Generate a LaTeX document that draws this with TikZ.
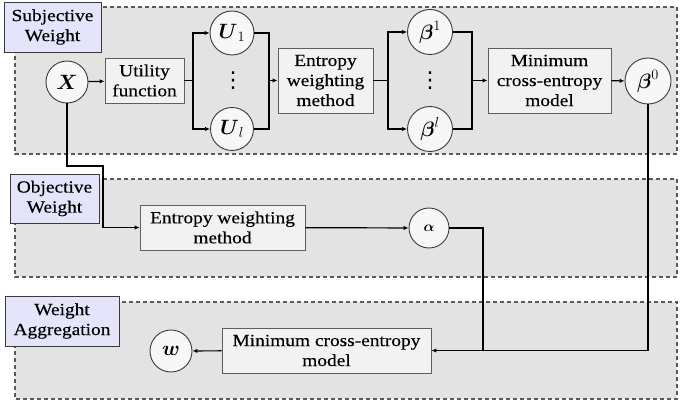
\documentclass[tikz,border=0pt]{standalone}
\usepackage{amsmath}
\usepackage{fontspec}
\setmainfont[FakeStretch=1.14,FakeBold=0.3]{Liberation Serif}
\newfontfamily\symfont{DejaVu Sans}
\usetikzlibrary{arrows.meta}
\definecolor{panelfill}{HTML}{E3E3E3}
\definecolor{paneldraw}{HTML}{5A5A5A}
\definecolor{labfill}{HTML}{E4E4FA}
\definecolor{labdraw}{HTML}{3A3A3A}
\definecolor{boxfill}{HTML}{F2F2F2}
\definecolor{boxdraw}{HTML}{5E5E5E}
\definecolor{circfill}{HTML}{F7F7F7}
\tikzset{
  panel/.style={fill=panelfill, draw=paneldraw, line width=1.1pt, dash pattern=on 4pt off 3pt},
  lab/.style={fill=labfill, draw=labdraw, line width=0.9pt, align=center, inner sep=0pt,
    font=\fontsize{17}{20}\selectfont},
  procbox/.style={fill=boxfill, draw=boxdraw, line width=0.9pt, align=center, inner sep=0pt,
    font=\fontsize{17}{20}\selectfont},
  circ/.style={circle, fill=circfill, draw=labdraw, line width=0.9pt, inner sep=0pt,
    font=\fontsize{20}{24}\selectfont},
  dotsnode/.style={inner sep=0pt, font=\symfont\fontsize{22}{24}\selectfont},
  conn/.style={line width=1.2pt},
  arr/.style={conn, -{Latex[length=5pt,width=4.5pt]}},
}
\begin{document}
\begin{tikzpicture}[x=1pt,y=-1pt]
\useasboundingbox (0,0) rectangle (685,406);
% panels
\draw[panel] (15,7) rectangle (677,154);
\draw[panel] (15,179) rectangle (677,277);
\draw[panel] (15,302) rectangle (677,399);
% labels
\node[lab, minimum width=97pt, minimum height=50pt] (labS) at (52.5,27) {Subjective\\Weight};
\node[lab, minimum width=89pt, minimum height=49pt] (labO) at (54.5,198.5) {Objective\\Weight};
\node[lab, minimum width=114pt, minimum height=50pt] (labA) at (62,321) {Weight\\Aggregation};
% subjective nodes
\node[circ, minimum size=42pt] (X) at (67,82) {$\boldsymbol{X}$};
\node[procbox, minimum width=79pt, minimum height=45pt] (util) at (144.5,80.5) {Utility\\function};
\node[circ, minimum size=44pt] (U1) at (232,33) {$\boldsymbol{U}_{1}$};
\node[circ, minimum size=43pt] (Ul) at (232,129) {$\boldsymbol{U}_{l}$};
\node[dotsnode] (dots1) at (233,81) {⋮};
\node[procbox, minimum width=95pt, minimum height=65pt] (ent1) at (325.5,80.5) {Entropy\\weighting\\method};
\node[circ, minimum size=45pt] (b1) at (430,32) {$\boldsymbol{\beta}^{1}$};
\node[circ, minimum size=45pt] (bl) at (430,129) {$\boldsymbol{\beta}^{l}$};
\node[dotsnode] (dots2) at (430,81) {⋮};
\node[procbox, minimum width=123pt, minimum height=65pt] (min1) at (549.5,80.5) {Minimum\\cross-entropy\\model};
\node[circ, minimum size=46pt] (b0) at (648,81) {$\boldsymbol{\beta}^{0}$};
% objective nodes
\node[procbox, minimum width=165pt, minimum height=45pt] (ent2) at (222.5,227.5) {Entropy weighting\\method};
\node[circ, minimum size=40pt, font=\fontsize{14}{16}\selectfont] (alpha) at (429,228) {$\boldsymbol{\alpha}$};
% aggregation nodes
\node[procbox, minimum width=209pt, minimum height=45pt] (min2) at (326.5,350.5) {Minimum cross-entropy\\model};
\node[circ, minimum size=42pt] (w) at (171,351) {$\boldsymbol{w}$};
% junction coordinates
\coordinate (s1) at (193,80.5);
\coordinate (m1) at (269,80.5);
\coordinate (s2) at (388,80.5);
\coordinate (m2) at (472,80.5);
\coordinate (c1) at (103,166);
\coordinate (j) at (483,350.5);
% connectors
\draw[arr] (X) -- (util);
\draw[conn] (util.east) -- (s1);
\draw[arr] (s1) |- (U1);
\draw[arr] (s1) |- (Ul);
\draw[conn] (U1) -| (m1);
\draw[conn] (Ul) -| (m1);
\draw[arr] (m1) -- (ent1);
\draw[conn] (ent1) -- (s2);
\draw[arr] (s2) |- (b1);
\draw[arr] (s2) |- (bl);
\draw[conn] (b1) -| (m2);
\draw[conn] (bl) -| (m2);
\draw[arr] (m2) -- (min1);
\draw[arr] (min1) -- (b0);
\draw[arr] (X.south) |- (c1) |- (ent2.west);
\draw[arr] (ent2) -- (alpha);
\draw[conn] (alpha) -| (j);
\draw[arr] (b0) |- (min2.east);
\draw[arr] (min2) -- (w);
\end{tikzpicture}
\end{document}
